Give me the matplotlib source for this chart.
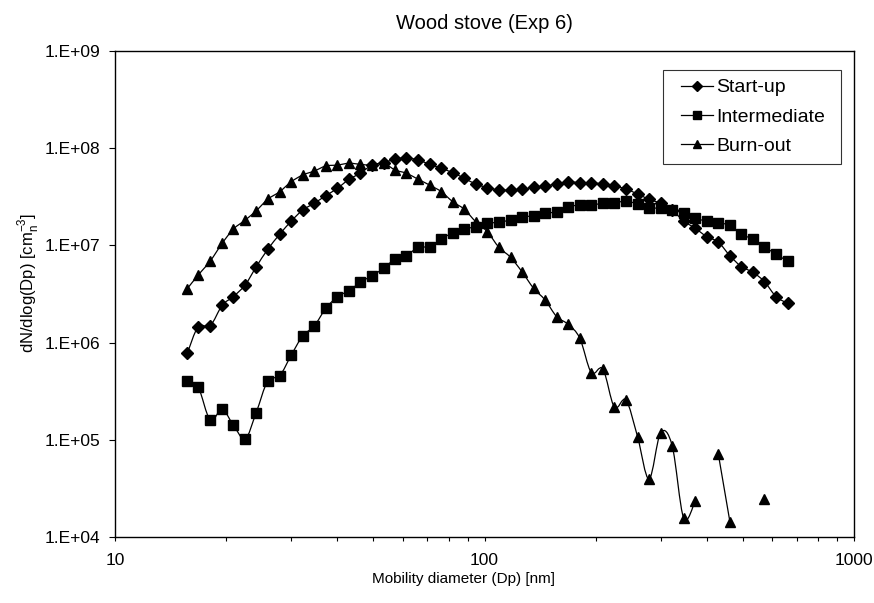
import numpy as np
import matplotlib
matplotlib.use("Agg")
import matplotlib.pyplot as plt
from matplotlib.path import Path
from matplotlib.patches import PathPatch
from matplotlib.lines import Line2D
from matplotlib.legend_handler import HandlerLine2D
from matplotlib.ticker import FixedLocator, FuncFormatter, LogLocator, NullFormatter

plt.rcParams['font.family'] = ['Liberation Sans', 'DejaVu Sans']
plt.rcParams['mathtext.fontset'] = 'custom'
plt.rcParams['mathtext.rm'] = 'Liberation Sans'

# mobility diameters (nm), 32 channels per decade
diam = [15.7, 16.8, 18.1, 19.5, 20.9, 22.5, 24.1, 25.9, 27.9, 30.0,
        32.2, 34.6, 37.2, 40.0, 43.0, 46.1, 49.6, 53.3, 57.3, 61.5,
        66.1, 71.0, 76.4, 82.0, 88.2, 94.7, 101.8, 109.4, 117.6, 126.3,
        135.8, 145.9, 156.8, 168.5, 181.1, 194.6, 209.1, 224.7, 241.4, 259.5,
        278.8, 299.6, 322.0, 346.0, 371.8, 399.5, 429.4, 461.4, 495.8, 532.8,
        572.5, 615.3, 661.2]

startup = [7.8e5, 1.46e6, 1.49e6, 2.42e6, 2.97e6, 3.92e6, 6.0e6, 9.1e6, 1.30e7, 1.78e7,
           2.31e7, 2.71e7, 3.25e7, 3.87e7, 4.79e7, 5.52e7, 6.7e7, 7.1e7, 7.7e7, 7.98e7,
           7.56e7, 6.83e7, 6.21e7, 5.6e7, 4.9e7, 4.28e7, 3.93e7, 3.72e7, 3.72e7, 3.78e7,
           3.96e7, 4.09e7, 4.28e7, 4.52e7, 4.42e7, 4.42e7, 4.28e7, 4.11e7, 3.80e7, 3.38e7,
           2.98e7, 2.71e7, 2.31e7, 1.78e7, 1.50e7, 1.23e7, 1.08e7, 7.84e6, 6.04e6, 5.29e6,
           4.23e6, 2.97e6, 2.54e6]

intermediate = [4.03e5, 3.47e5, 1.60e5, 2.06e5, 1.42e5, 1.02e5, 1.90e5, 4.03e5, 4.56e5, 7.45e5,
                1.17e6, 1.48e6, 2.25e6, 2.97e6, 3.42e6, 4.17e6, 4.88e6, 5.81e6, 7.24e6, 7.83e6,
                9.56e6, 9.7e6, 1.16e7, 1.35e7, 1.47e7, 1.56e7, 1.69e7, 1.73e7, 1.83e7, 1.97e7,
                2.01e7, 2.14e7, 2.22e7, 2.50e7, 2.60e7, 2.60e7, 2.71e7, 2.71e7, 2.88e7, 2.65e7,
                2.44e7, 2.41e7, 2.31e7, 2.14e7, 1.90e7, 1.78e7, 1.69e7, 1.62e7, 1.30e7, 1.16e7,
                9.7e6, 8.1e6, 6.9e6]

burnout = [3.6e6, 4.96e6, 6.9e6, 1.05e7, 1.47e7, 1.82e7, 2.27e7, 2.98e7, 3.57e7, 4.52e7,
           5.3e7, 5.82e7, 6.56e7, 6.71e7, 7.0e7, 6.83e7, 6.7e7, 7.0e7, 5.97e7, 5.52e7,
           4.79e7, 4.18e7, 3.57e7, 2.82e7, 2.35e7, 1.75e7, 1.38e7, 9.56e6, 7.55e6, 5.36e6,
           3.62e6, 2.74e6, 1.85e6, 1.54e6, 1.11e6, 4.9e5, 5.35e5, 2.16e5, 2.57e5, 1.08e5,
           3.95e4, 1.18e5, 8.7e4, 1.56e4, 2.35e4, np.nan, 7.1e4, 1.44e4, np.nan, np.nan,
           2.46e4, np.nan, np.nan]

series = [("Start-up", startup, "D", 6.0),
          ("Intermediate", intermediate, "s", 6.8),
          ("Burn-out", burnout, "^", 7.5)]


def smooth_path(x, y):
    # Catmull-Rom style bezier through the points, built in log-log space
    pts = np.column_stack([np.log10(x), np.log10(y)])
    n = len(pts)
    verts = [pts[0]]
    codes = [Path.MOVETO]
    for i in range(n - 1):
        p0 = pts[max(i - 1, 0)]
        p1 = pts[i]
        p2 = pts[i + 1]
        p3 = pts[min(i + 2, n - 1)]
        verts += [p1 + (p2 - p0) / 6, p2 - (p3 - p1) / 6, p2]
        codes += [Path.CURVE4] * 3
    return Path(10 ** np.array(verts), codes)


fig = plt.figure(figsize=(8.74, 6.03), dpi=100)
ax = fig.add_axes([115 / 874, 1 - 537 / 603, 739 / 874, 486 / 603])
ax.set_xscale('log')
ax.set_yscale('log')
ax.set_xlim(10, 1000)
ax.set_ylim(1e4, 1e9)

handles = []
for name, vals, mk, ms in series:
    x = np.array(diam)
    y = np.array(vals, dtype=float)
    ok = ~np.isnan(y)
    # draw each unbroken run as its own smoothed curve
    start = None
    for i in range(len(y) + 1):
        good = i < len(y) and ok[i]
        if good and start is None:
            start = i
        elif not good and start is not None:
            if i - start > 1:
                ax.add_patch(PathPatch(smooth_path(x[start:i], y[start:i]),
                                       facecolor='none', edgecolor='black', lw=0.9))
            start = None
    ax.plot(x[ok], y[ok], linestyle='none', marker=mk, ms=ms, color='black', zorder=3)
    handles.append(Line2D([], [], color='black', lw=0.9, marker=mk, ms=ms * 0.8, label=name))

ax.yaxis.set_major_locator(FixedLocator([1e4, 1e5, 1e6, 1e7, 1e8, 1e9]))
ax.yaxis.set_major_formatter(FuncFormatter(lambda v, p: "1.E+%02d" % round(np.log10(v))))
ax.yaxis.set_minor_locator(FixedLocator([]))
ax.xaxis.set_major_locator(FixedLocator([10, 100, 1000]))
ax.xaxis.set_major_formatter(FuncFormatter(lambda v, p: "%d" % v))
ax.xaxis.set_minor_locator(LogLocator(base=10, subs=np.arange(2, 10)))
ax.xaxis.set_minor_formatter(NullFormatter())

ax.tick_params(axis='y', which='major', direction='out', length=4.3, width=0.8,
               labelsize=12.5, pad=6.5)
ax.tick_params(axis='x', which='both', direction='out', length=3.2, width=0.8,
               labelsize=12.5, pad=8.5)
for s in ax.spines.values():
    s.set_linewidth(1.0)
    s.set_color('black')

ax.set_title("Wood stove (Exp 6)", fontsize=14.5, pad=16)
ax.set_xlabel("Mobility diameter (Dp) [nm]", fontsize=11)
ax.xaxis.set_label_coords(0.472, -0.072)
ax.set_ylabel(r"dN/dlog(Dp) [cm$_\mathregular{n}^\mathregular{-3}$]", fontsize=12)
ax.yaxis.set_label_coords(-0.100, 0.523)

leg = ax.legend(handles=handles, loc='upper left', mode='expand',
                bbox_to_anchor=(0.7415, 0.5, 0.2409, 0.461),
                handler_map={Line2D: HandlerLine2D(xpad=0.5)},
                fontsize=14, frameon=True, fancybox=False, shadow=False,
                handlelength=2.1, handletextpad=0.2, labelspacing=0.6,
                borderpad=0.45, borderaxespad=0)
leg.get_frame().set_edgecolor('black')
leg.get_frame().set_linewidth(0.8)

fig.savefig("out.png", dpi=100)
